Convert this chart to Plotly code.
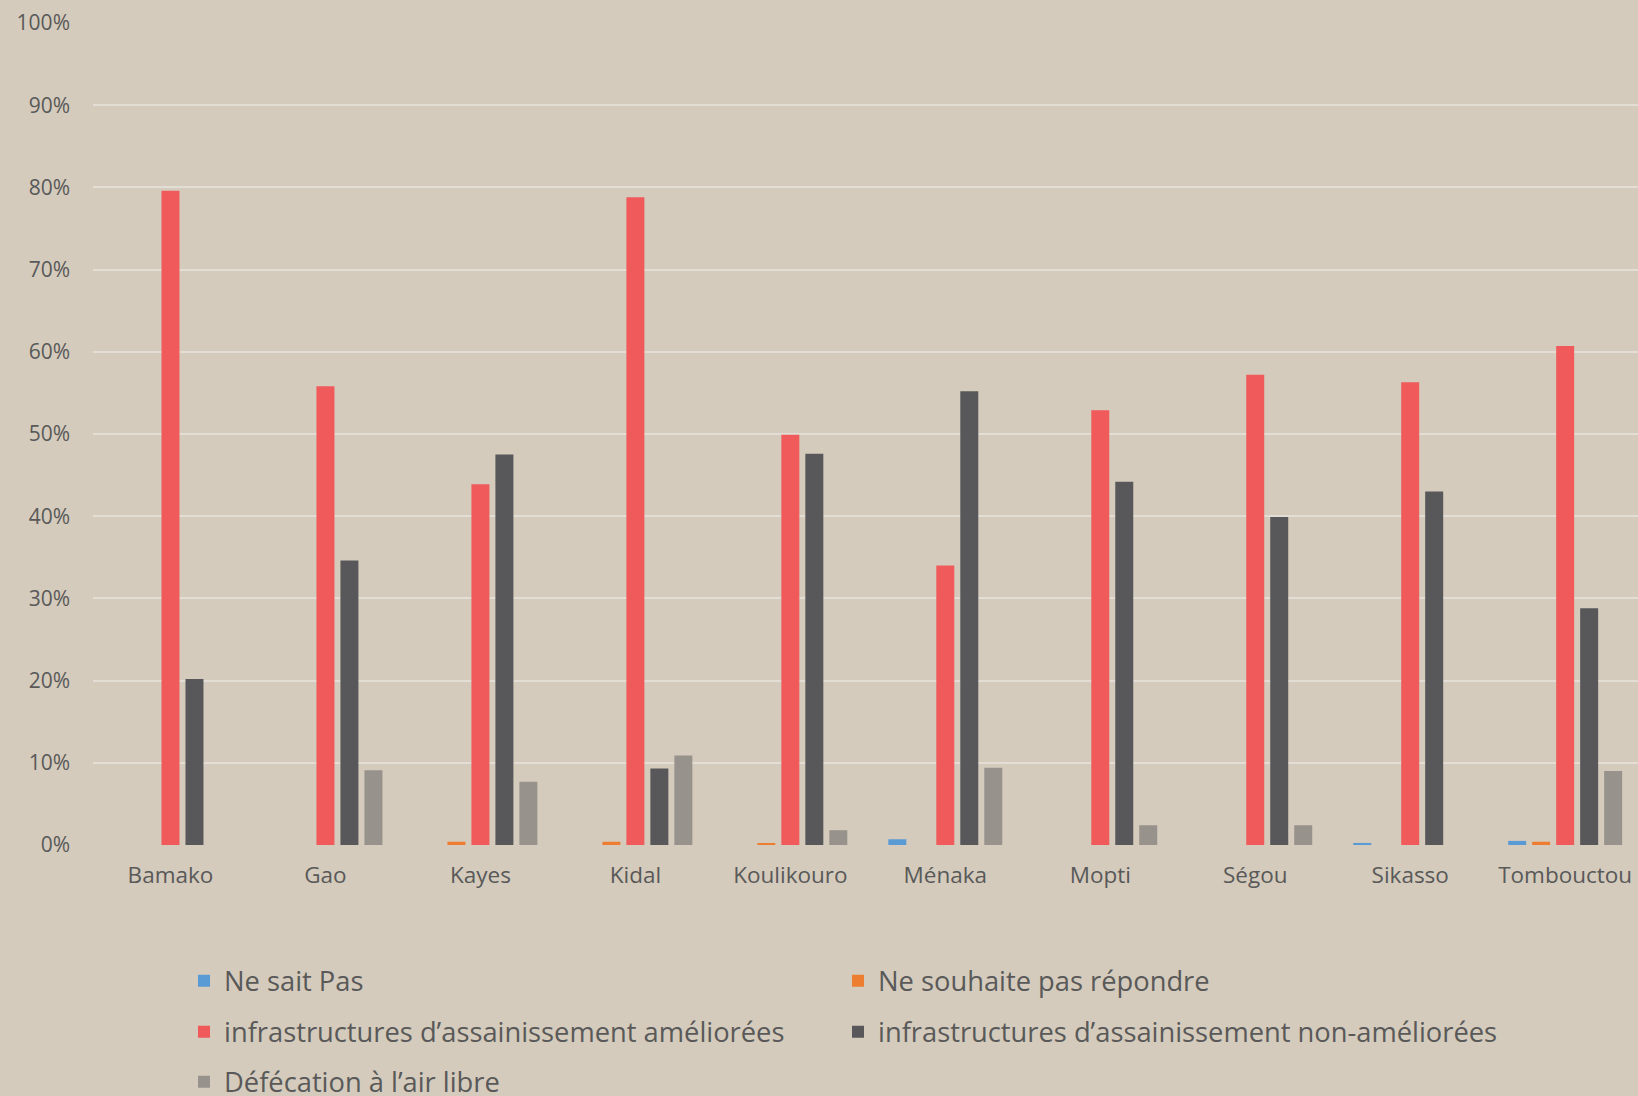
import plotly.graph_objects as go

regions = ["Bamako", "Gao", "Kayes", "Kidal", "Koulikouro", "Ménaka", "Mopti", "Ségou", "Sikasso", "Tombouctou"]

ne_sait_pas = [0, 0, 0, 0, 0, 0.7, 0, 0, 0.25, 0.5]
ne_souhaite_pas = [0, 0, 0.4, 0.4, 0.15, 0, 0, 0, 0, 0.4]
ameliorees = [79.6, 55.8, 43.9, 78.8, 49.9, 34.0, 52.9, 57.2, 56.3, 60.7]
non_ameliorees = [20.2, 34.6, 47.5, 9.3, 47.6, 55.2, 44.2, 39.9, 43.0, 28.8]
air_libre = [0, 9.1, 7.7, 10.9, 1.8, 9.4, 2.4, 2.4, 0, 9.0]

series = [
    ("Ne sait Pas", ne_sait_pas, "#5B9BD5", "legend"),
    ("Ne souhaite pas répondre", ne_souhaite_pas, "#ED7D31", "legend2"),
    ("infrastructures d’assainissement améliorées", ameliorees, "#F05A5A", "legend3"),
    ("infrastructures d’assainissement non-améliorées", non_ameliorees, "#58585A", "legend4"),
    ("Défécation à l’air libre", air_libre, "#97928B", "legend5"),
]

BG = "#D4CBBC"
TXT = "#595959"
FONT = "Open Sans"

fig = go.Figure()
for name, vals, color, leg in series:
    fig.add_trace(go.Bar(
        x=regions, y=vals, name=name, legend=leg, showlegend=True,
        marker=dict(color=color, line=dict(width=0)),
    ))

W, H = 1638, 1096
leg_common = dict(
    orientation="h", xref="container", yref="container",
    xanchor="left", yanchor="middle",
    font=dict(family=FONT, size=27.3, color=TXT), bgcolor="rgba(0,0,0,0)",
    itemclick=False, itemdoubleclick=False, visible=True,
)
xl = 184 / W
xr = 838 / W
fig.update_layout(
    width=W, height=H, showlegend=True,
    paper_bgcolor=BG, plot_bgcolor=BG,
    margin=dict(l=93, r=0, t=23, b=251),
    barmode="group", bargap=0.226, bargroupgap=0.25,
    font=dict(family=FONT, color=TXT),
    legend=dict(**leg_common, x=xl, y=1 - 981 / H),
    legend2=dict(**leg_common, x=xr, y=1 - 981 / H),
    legend3=dict(**leg_common, x=xl, y=1 - 1032 / H),
    legend4=dict(**leg_common, x=xr, y=1 - 1032 / H),
    legend5=dict(**leg_common, x=xl, y=1 - 1082 / H),
    xaxis=dict(
        range=[-0.5, 9.47], showgrid=False, zeroline=False, showline=False,
        ticks="", tickfont=dict(family=FONT, size=22.5, color=TXT), ticklabelstandoff=14,
    ),
    yaxis=dict(
        range=[0, 100], tickvals=[0, 10, 20, 30, 40, 50, 60, 70, 80, 90, 100],
        ticktext=["0%", "10%", "20%", "30%", "40%", "50%", "60%", "70%", "80%", "90%", "100%"],
        showgrid=True, gridcolor="#E2DDD5", gridwidth=2, zeroline=False, showline=False,
        ticks="", tickfont=dict(family=FONT, size=21, color=TXT), ticklabelstandoff=22,
    ),
)

fig.write_html(
    "out.html",
    config={"displayModeBar": False},
    post_script="document.body.style.margin='0';document.body.style.overflow='hidden';",
)
